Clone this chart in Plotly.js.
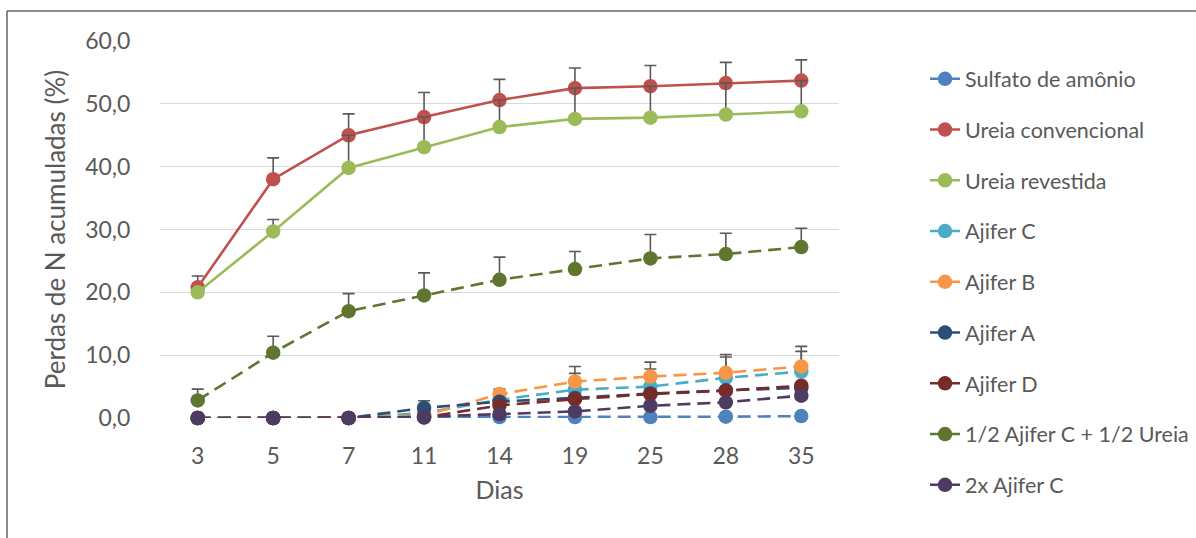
<!DOCTYPE html>
<html>
<head>
<meta charset="utf-8">
<script src="https://cdn.plot.ly/plotly-3.0.1.min.js"></script>
<style>html,body{margin:0;padding:0;background:#fff;}#chart{width:1196px;height:538px;}</style>
</head>
<body>
<div id="chart"></div>
<script>
const dias = ["3", "5", "7", "11", "14", "19", "25", "28", "35"];

const seriesNames = ["Sulfato de amônio", "Ureia convencional", "Ureia revestida", "Ajifer C", "Ajifer B", "Ajifer A", "Ajifer D", "1/2 Ajifer C + 1/2 Ureia", "2x Ajifer C"];
const seriesColors = ["#4F81BD", "#C0504D", "#9BBB59", "#4BACC6", "#F79646", "#2C4D75", "#772C2A", "#5F7530", "#4D3B62"];
const seriesDashed = [true, false, false, true, true, true, true, true, true];

const sulfato      = [0, 0, 0, 0.05, 0.15, 0.15, 0.15, 0.2, 0.3];
const ureiaConv    = [20.8, 38.0, 45.0, 47.9, 50.6, 52.5, 52.8, 53.3, 53.7];
const ureiaRev     = [20.0, 29.7, 39.8, 43.1, 46.3, 47.6, 47.8, 48.3, 48.8];
const ajiferC      = [0, 0, 0, 0.8, 2.9, 4.5, 5.0, 6.4, 7.4];
const ajiferB      = [0, 0, 0, 0.4, 3.8, 5.8, 6.6, 7.2, 8.2];
const ajiferA      = [0, 0, 0, 1.6, 2.6, 3.2, 3.9, 4.4, 4.8];
const ajiferD      = [0, 0, 0, 0.1, 2.0, 3.0, 3.8, 4.35, 5.15];
const meioMeio     = [2.8, 10.4, 17.0, 19.5, 22.0, 23.7, 25.4, 26.1, 27.2];
const ajiferC2x    = [0, 0, 0, 0.2, 0.6, 1.05, 1.95, 2.5, 3.55];

const errSulfato   = [0, 0, 0, 0, 0, 0, 0, 0, 0];
const errUreiaConv = [1.8, 3.4, 3.4, 3.9, 3.3, 3.2, 3.3, 3.3, 3.3];
const errUreiaRev  = [0.8, 1.9, 5.2, 4.8, 4.3, 4.9, 5.0, 5.0, 4.9];
const errAjiferC   = [0, 0, 0, 0, 0.8, 2.6, 2.8, 3.3, 3.2];
const errAjiferB   = [0, 0, 0, 0, 0.8, 2.4, 2.3, 2.9, 3.2];
const errAjiferA   = [0, 0, 0, 1.15, 0, 0, 0, 0, 0];
const errAjiferD   = [0, 0, 0, 0, 0, 0, 0, 0, 0];
const errMeioMeio  = [1.8, 2.6, 2.8, 3.6, 3.6, 2.8, 3.8, 3.3, 3.0];
const errAjiferC2x = [0, 0, 0, 0, 0, 0, 0, 0, 0];

const values = [sulfato, ureiaConv, ureiaRev, ajiferC, ajiferB, ajiferA, ajiferD, meioMeio, ajiferC2x];
const errors = [errSulfato, errUreiaConv, errUreiaRev, errAjiferC, errAjiferB, errAjiferA, errAjiferD, errMeioMeio, errAjiferC2x];

const FONT = "Lato, 'Open Sans', sans-serif";
const GREY = "#595959";

const traces = seriesNames.map((name, i) => ({
  type: "scatter",
  mode: "lines+markers",
  name: name,
  x: dias,
  y: values[i],
  legendgroup: "g" + i,
  line: { color: seriesColors[i], width: 2.6, dash: seriesDashed[i] ? "13px,7px" : "solid" },
  marker: { color: seriesColors[i], size: 14.5, symbol: "circle" },
  error_y: {
    type: "data",
    symmetric: false,
    array: errors[i],
    arrayminus: errors[i].map(() => 0),
    color: GREY,
    thickness: 1.6,
    width: 6,
    visible: true
  },
  cliponaxis: false
}));

const layout = {
  width: 1196,
  height: 538,
  paper_bgcolor: "#ffffff",
  plot_bgcolor: "#ffffff",
  separators: ",.",
  margin: { l: 160, r: 357, t: 41, b: 120, pad: 0, autoexpand: false },
  font: { family: FONT, color: GREY, size: 22 },
  showlegend: true,
  legend: {
    x: 1.1267,
    xanchor: "left",
    y: 0.954,
    yanchor: "top",
    maxheight: 1000,
    font: { family: FONT, size: 21.5, color: GREY },
    tracegroupgap: 19.8,
    itemwidth: 30,
    bgcolor: "rgba(0,0,0,0)"
  },
  xaxis: {
    type: "category",
    range: [-0.5, 8.5],
    showgrid: false,
    zeroline: false,
    showline: false,
    ticks: "outside",
    ticklen: 17,
    tickcolor: "rgba(0,0,0,0)",
    tickfont: { family: FONT, size: 23, color: GREY },
    title: { text: "Dias", font: { family: FONT, size: 25, color: GREY }, standoff: 13 },
    fixedrange: true
  },
  yaxis: {
    range: [0, 60],
    dtick: 10,
    tickformat: ".1f",
    showgrid: true,
    gridcolor: "#D9D9D9",
    gridwidth: 1.3,
    zeroline: false,
    showline: false,
    ticks: "outside",
    ticklen: 24,
    tickcolor: "rgba(0,0,0,0)",
    tickfont: { family: FONT, size: 23, color: GREY },
    title: { text: "Perdas de N acumuladas (%)", font: { family: FONT, size: 26, color: GREY }, standoff: 12 },
    fixedrange: true
  },
  shapes: [{
    type: "rect",
    xref: "paper", yref: "paper",
    x0: (7 - 160) / 679, x1: 1.6,
    y0: -0.4, y1: (418 - 11) / 377,
    line: { color: "#1a1a1a", width: 1 },
    fillcolor: "rgba(0,0,0,0)",
    layer: "below"
  }]
};

Plotly.newPlot("chart", traces, layout, { displayModeBar: false, staticPlot: true });
</script>
</body>
</html>
